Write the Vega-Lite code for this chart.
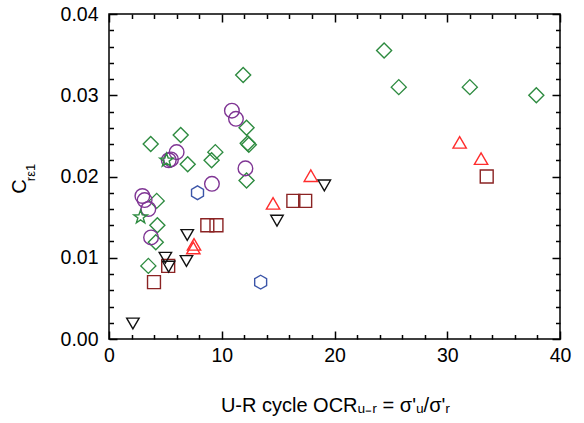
{
  "$schema": "https://vega.github.io/schema/vega-lite/v6.json",
  "width": 451,
  "height": 325,
  "autosize": "none",
  "padding": {"left": 109, "top": 14, "right": 24, "bottom": 84},
  "background": "white",
  "config": {
    "view": {"stroke": "black", "strokeWidth": 1.5},
    "font": "Liberation Sans",
    "axis": {
      "grid": false,
      "domain": false,
      "tickColor": "black",
      "tickWidth": 1.5,
      "labelColor": "black",
      "titleColor": "black",
      "labelFont": "Liberation Sans",
      "titleFont": "Liberation Sans",
      "titleFontWeight": "normal",
      "labelFontSize": 19.5,
      "labelFlush": false,
      "labelOverlap": false
    }
  },
  "datasets": {
    "pts": [
      {"s": "diamond", "ocr": 3.7, "c": 0.0240},
      {"s": "diamond", "ocr": 6.36, "c": 0.0251},
      {"s": "diamond", "ocr": 11.9, "c": 0.0325},
      {"s": "diamond", "ocr": 12.2, "c": 0.0260},
      {"s": "diamond", "ocr": 12.3, "c": 0.0241},
      {"s": "diamond", "ocr": 12.4, "c": 0.0239},
      {"s": "diamond", "ocr": 9.43, "c": 0.0230},
      {"s": "diamond", "ocr": 9.1, "c": 0.0220},
      {"s": "diamond", "ocr": 6.98, "c": 0.0215},
      {"s": "diamond", "ocr": 12.2, "c": 0.0195},
      {"s": "diamond", "ocr": 4.23, "c": 0.0170},
      {"s": "diamond", "ocr": 4.29, "c": 0.0140},
      {"s": "diamond", "ocr": 4.15, "c": 0.0119},
      {"s": "diamond", "ocr": 3.49, "c": 0.0090},
      {"s": "diamond", "ocr": 24.4, "c": 0.0355},
      {"s": "diamond", "ocr": 25.7, "c": 0.0310},
      {"s": "diamond", "ocr": 32.0, "c": 0.0310},
      {"s": "diamond", "ocr": 37.9, "c": 0.0300},
      {"s": "circle", "ocr": 5.3, "c": 0.0220},
      {"s": "circle", "ocr": 5.5, "c": 0.0221},
      {"s": "circle", "ocr": 6.0, "c": 0.0230},
      {"s": "circle", "ocr": 10.9, "c": 0.0281},
      {"s": "circle", "ocr": 11.26, "c": 0.0271},
      {"s": "circle", "ocr": 12.1, "c": 0.0210},
      {"s": "circle", "ocr": 9.13, "c": 0.0191},
      {"s": "circle", "ocr": 2.96, "c": 0.0176},
      {"s": "circle", "ocr": 3.16, "c": 0.0171},
      {"s": "circle", "ocr": 3.49, "c": 0.0160},
      {"s": "circle", "ocr": 3.73, "c": 0.0125},
      {"s": "star", "ocr": 5.1, "c": 0.0220},
      {"s": "star", "ocr": 2.8, "c": 0.0150},
      {"s": "hexagon", "ocr": 7.85, "c": 0.0180},
      {"s": "hexagon", "ocr": 13.45, "c": 0.0070},
      {"s": "tri_up", "ocr": 17.9, "c": 0.0201},
      {"s": "tri_up", "ocr": 14.55, "c": 0.0167},
      {"s": "tri_up", "ocr": 7.54, "c": 0.01165},
      {"s": "tri_up", "ocr": 7.48, "c": 0.0112},
      {"s": "tri_up", "ocr": 31.1, "c": 0.0242},
      {"s": "tri_up", "ocr": 33.0, "c": 0.0222},
      {"s": "square", "ocr": 33.5, "c": 0.0200},
      {"s": "square", "ocr": 16.35, "c": 0.0170},
      {"s": "square", "ocr": 17.4, "c": 0.0170},
      {"s": "square", "ocr": 8.72, "c": 0.0140},
      {"s": "square", "ocr": 9.53, "c": 0.0140},
      {"s": "square", "ocr": 5.25, "c": 0.0090},
      {"s": "square", "ocr": 3.99, "c": 0.0070},
      {"s": "tri_down", "ocr": 19.1, "c": 0.0189},
      {"s": "tri_down", "ocr": 14.9, "c": 0.01456},
      {"s": "tri_down", "ocr": 6.94, "c": 0.0128},
      {"s": "tri_down", "ocr": 5.0, "c": 0.0100},
      {"s": "tri_down", "ocr": 5.29, "c": 0.0089},
      {"s": "tri_down", "ocr": 6.87, "c": 0.0096},
      {"s": "tri_down", "ocr": 2.12, "c": 0.0019}
    ]
  },
  "data": {"name": "pts"},
  "encoding": {
    "shape": {
      "field": "s",
      "type": "nominal",
      "legend": null,
      "scale": {
        "domain": ["diamond", "circle", "star", "hexagon", "tri_up", "square", "tri_down"],
        "range": ["diamond", "circle", "M0,-1L0.235,-0.324L0.951,-0.309L0.38,0.124L0.588,0.809L0,0.4L-0.588,0.809L-0.38,0.124L-0.951,-0.309L-0.235,-0.324Z", "M0,-1L0.866,-0.5L0.866,0.5L0,1L-0.866,0.5L-0.866,-0.5Z", "triangle-up", "square", "triangle-down"]
      }
    },
    "color": {
      "field": "s",
      "type": "nominal",
      "legend": null,
      "scale": {
        "domain": ["diamond", "circle", "star", "hexagon", "tri_up", "square", "tri_down"],
        "range": ["#2e8b40", "#7f3594", "#2e8b40", "#3b55a8", "#ff2d2d", "#8b2323", "#111111"]
      }
    },
    "size": {
      "field": "s",
      "type": "nominal",
      "legend": null,
      "scale": {
        "domain": ["diamond", "circle", "star", "hexagon", "tri_up", "square", "tri_down"],
        "range": [225, 155, 196, 155, 160, 137, 140]
      }
    }
  },
  "resolve": {"axis": {"x": "independent", "y": "independent"}},
  "layer": [
    {
      "transform": [{"filter": {"field": "s", "oneOf": ["diamond"]}}],
      "mark": {"type": "point", "filled": false, "strokeWidth": 1.4, "opacity": 1},
      "encoding": {
        "x": {"field": "ocr", "type": "quantitative", "scale": {"domain": [0, 40], "nice": false, "zero": false},
          "axis": {"orient": "bottom", "values": [0, 10, 20, 30, 40], "ticks": false, "labelPadding": 7,
            "title": "U-R cycle OCRᵤ₋ᵣ = σ'ᵤ/σ'ᵣ", "titleFontSize": 20, "titleX": 226, "titleY": 72, "titleBaseline": "alphabetic", "titleAlign": "center"}},
        "y": {"field": "c", "type": "quantitative", "scale": {"domain": [0, 0.04], "nice": false, "zero": false},
          "axis": {"orient": "left", "values": [0, 0.01, 0.02, 0.03, 0.04], "format": ".2f", "ticks": false, "labelPadding": 11,
            "title": "C", "titleFontSize": 20, "titleAngle": 270, "titleX": -89.5, "titleY": 172, "titleAlign": "center", "titleBaseline": "middle"}}
      }
    },
    {
      "transform": [{"filter": {"field": "s", "oneOf": ["circle"]}}],
      "mark": {"type": "point", "filled": false, "strokeWidth": 1.4, "opacity": 1},
      "encoding": {
        "x": {"field": "ocr", "type": "quantitative",
          "axis": {"orient": "bottom", "values": [0, 10, 20, 30, 40], "labels": false, "tickSize": -8, "title": null}},
        "y": {"field": "c", "type": "quantitative",
          "axis": {"orient": "left", "values": [0, 0.01, 0.02, 0.03, 0.04], "labels": false, "tickSize": -8, "title": null}}
      }
    },
    {
      "transform": [{"filter": {"field": "s", "oneOf": ["star", "hexagon"]}}],
      "mark": {"type": "point", "filled": false, "strokeWidth": 1.4, "opacity": 1},
      "encoding": {
        "x": {"field": "ocr", "type": "quantitative",
          "axis": {"orient": "bottom", "values": [2, 4, 6, 8, 12, 14, 16, 18, 22, 24, 26, 28, 32, 34, 36, 38], "labels": false, "tickSize": -4.5, "title": null}},
        "y": {"field": "c", "type": "quantitative",
          "axis": {"orient": "left", "values": [0.002, 0.004, 0.006, 0.008, 0.012, 0.014, 0.016, 0.018, 0.022, 0.024, 0.026, 0.028, 0.032, 0.034, 0.036, 0.038], "labels": false, "tickSize": -4.5,
            "title": "rε1", "titleFontSize": 13, "titleAngle": 270, "titleX": -78.5, "titleY": 158, "titleAlign": "center", "titleBaseline": "middle"}}
      }
    },
    {
      "transform": [{"filter": {"field": "s", "oneOf": ["tri_up", "square"]}}],
      "mark": {"type": "point", "filled": false, "strokeWidth": 1.4, "opacity": 1},
      "encoding": {
        "x": {"field": "ocr", "type": "quantitative",
          "axis": {"orient": "top", "values": [0, 10, 20, 30, 40], "labels": false, "tickSize": -8, "title": null}},
        "y": {"field": "c", "type": "quantitative",
          "axis": {"orient": "right", "values": [0, 0.01, 0.02, 0.03, 0.04], "labels": false, "tickSize": -8, "title": null}}
      }
    },
    {
      "transform": [{"filter": {"field": "s", "oneOf": ["tri_down"]}}],
      "mark": {"type": "point", "filled": false, "strokeWidth": 1.4, "opacity": 1},
      "encoding": {
        "x": {"field": "ocr", "type": "quantitative",
          "axis": {"orient": "top", "values": [2, 4, 6, 8, 12, 14, 16, 18, 22, 24, 26, 28, 32, 34, 36, 38], "labels": false, "tickSize": -4.5, "title": null}},
        "y": {"field": "c", "type": "quantitative",
          "axis": {"orient": "right", "values": [0.002, 0.004, 0.006, 0.008, 0.012, 0.014, 0.016, 0.018, 0.022, 0.024, 0.026, 0.028, 0.032, 0.034, 0.036, 0.038], "labels": false, "tickSize": -4.5, "title": null}}
      }
    }
  ]
}
